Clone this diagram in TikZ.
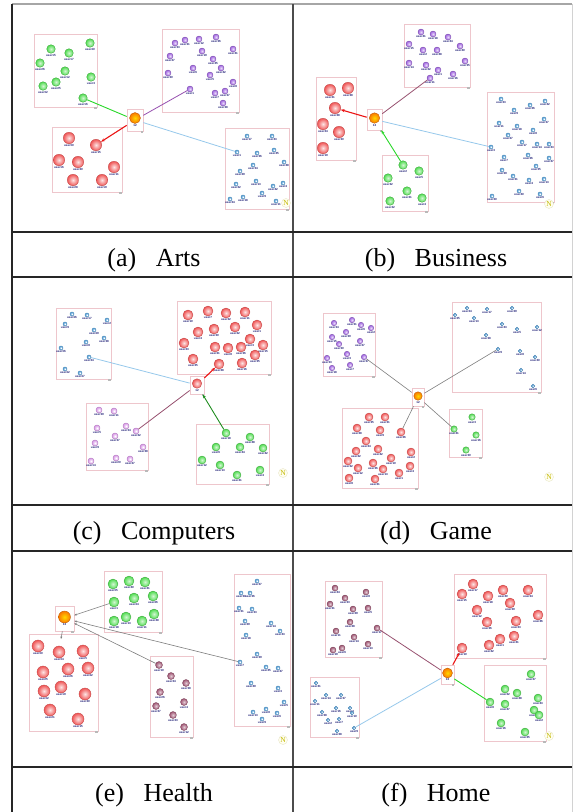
\documentclass[tikz,border=0pt]{standalone}
\usepackage{fontspec}
\setmainfont{Liberation Serif}
\newfontfamily\lblfont{Liberation Sans}
\usetikzlibrary{arrows.meta}

\definecolor{boxpink}{RGB}{238,198,204}
\definecolor{usrtxt}{RGB}{35,35,120}
\definecolor{redu}{RGB}{240,85,85}
\definecolor{grnu}{RGB}{80,220,80}
\definecolor{prpu}{RGB}{160,100,225}
\definecolor{bluu}{RGB}{80,160,220}
\definecolor{pnku}{RGB}{215,150,230}
\definecolor{maru}{RGB}{160,85,115}
\definecolor{orgu}{RGB}{250,120,0}
\definecolor{grnl}{RGB}{40,215,40}
\definecolor{dgrl}{RGB}{30,140,30}
\definecolor{redl}{RGB}{235,20,20}
\definecolor{prpl}{RGB}{150,80,175}
\definecolor{marl}{RGB}{150,80,110}
\definecolor{blul}{RGB}{150,200,235}
\definecolor{gryl}{RGB}{125,125,125}

% a group of users: prefix, colour style, size, list x/y/number
\newcommand{\users}[4]{\foreach \x/\y/\k in {#4}
  \node[usr,#2,minimum size=#3pt,label={[lbl]below:user\k}] (#1\k) at (\x,\y) {};}
% group frame with its little handle
\newcommand{\grpbox}[4]{\draw[grp] (#1,#2) rectangle (#3,#4);
  \fill[hdl] (#3-3,#4-0.5) rectangle +(2.5,2.5);}

\begin{document}
\begin{tikzpicture}[x=1pt,y=-1pt]
\tikzstyle{every node}=[inner sep=0pt]
\tikzstyle{usr}=[circle,line width=0.35pt,shading=radial]
\tikzstyle{lbl}=[font=\lblfont\bfseries\fontsize{3}{3}\selectfont,text=usrtxt,inner sep=0.3pt]
\tikzstyle{ured}=[inner color=redu!15!white,outer color=redu,draw=redu!80!black]
\tikzstyle{ugrn}=[inner color=grnu!25!white,outer color=grnu,draw=grnu!75!black]
\tikzstyle{uprp}=[inner color=prpu!25!white,outer color=prpu,draw=prpu!75!black]
\tikzstyle{ublu}=[inner color=white,outer color=bluu,draw=bluu!80!black,line width=0.45pt]
\tikzstyle{upnk}=[inner color=white,outer color=pnku,draw=pnku!85!black,line width=0.45pt]
\tikzstyle{umar}=[inner color=maru!30!white,outer color=maru,draw=maru!75!black]
\tikzstyle{uorg}=[inner color=yellow!70!orange,outer color=orgu,draw=orgu!75!black]
\tikzstyle{grp}=[draw=boxpink,line width=0.6pt]
\tikzstyle{hdl}=[fill=gray!55]
\tikzstyle{hubbox}=[draw=boxpink,line width=0.6pt,rectangle]
\tikzstyle{logo}=[circle,fill=yellow!6,draw=yellow!40!gray!35,minimum size=9pt,
  text=olive!55!yellow,font=\fontsize{7.5}{8}\selectfont]
\tikzstyle{captxt}=[anchor=base,font=\fontsize{26}{30}\selectfont]
\tikzstyle{lgrn}=[grnl,line width=0.9pt]
\tikzstyle{ldgr}=[dgrl,line width=0.9pt]
\tikzstyle{lred}=[redl,line width=1.1pt]
\tikzstyle{lprp}=[prpl,line width=0.8pt]
\tikzstyle{lmar}=[marl,line width=0.8pt]
\tikzstyle{lblu}=[blul,line width=0.8pt]
\tikzstyle{lgry}=[gryl,line width=0.6pt]
\tikzstyle{headtip}=[-{Stealth[length=4pt,width=3pt]}]

\useasboundingbox (0,0) rectangle (573,812);

% table
\draw[gray!70,line width=1.2pt] (12,4) -- (572,4);
\draw[black!85,line width=1.6pt] (12,4) -- (12,812);
\draw[black!70,line width=1.2pt] (293,4) -- (293,812);
\draw[gray!35,line width=1pt] (572,4) -- (572,812);
\foreach \h in {232,277,505,551,767}
  \draw[black!85,line width=1.2pt] (12,\h) -- (572,\h);

\node[captxt] (capA) at (154,266) {(a)\hspace{0.5em} Arts};
\node[captxt] (capB) at (436,266) {(b)\hspace{0.5em} Business};
\node[captxt] (capC) at (154,539) {(c)\hspace{0.5em} Computers};
\node[captxt] (capD) at (436,539) {(d)\hspace{0.5em} Game};
\node[captxt] (capE) at (154,801) {(e)\hspace{0.5em} Health};
\node[captxt] (capF) at (436,801) {(f)\hspace{0.5em} Home};

% (a) Arts
\grpbox{34}{34}{97}{107}
\users{ag}{ugrn}{8.6}{51/49/15,69/53/17,90/43/40,40/63/26,65/71/12,56/82/25,91/77/3,43/86/32,83/98/16}
\grpbox{162}{29}{239}{112}
\users{ap}{uprp}{6}{175/43/33,185/40/31,199/39/12,216/37/36,202/51/19,233/49/41,170/56/27,213/59/45,193/68/6,221/68/42,168/73/30,210/75/5,233/82/8,190/89/1,215/93/7,225/91/37,223/103/38}
\grpbox{52}{127}{122}{192}
\users{ar}{ured}{11.5}{69/138/30,96/145/15,59/160/16,78/162/20,114/167/11,73/180/28,102/180/19}
\grpbox{225}{128}{289}{209}
\users{ab}{ublu}{4}{247/136/17,272/136/43,237/152/1,257/153/36,274/150/45,284/162/48,253/165/34,240/171/29,256/181/13,236/184/22,273/186/42,283/183/4,262/193/9,243/197/18,230/199/24,276/201/11}
\node[logo] (logoA) at (286,203) {N};
\node[hubbox,minimum width=16pt,minimum height=22pt] (hubA) at (135,120) {};
\fill[hdl] (140.5,130.5) rectangle +(2.5,2.5);
\node[usr,uorg,minimum size=11pt,label={[lbl]below:12}] (orbA) at (135,118) {};
\draw[lgrn] (ag16) -- (hubA);
\draw[lred,headtip] (hubA) -- (ar15);
\draw[lprp] (hubA) -- (ap1);
\draw[lblu] (hubA) -- (ab1);

% (b) Business
\grpbox{316}{77}{356}{160}
\users{br}{ured}{11.5}{330/90/21,348/88/38,335/108/28,323/124/24,339/132/30,323/148/19}
\grpbox{404}{24}{470}{87}
\users{bp}{uprp}{6}{421/32/41,433/34/18,448/37/44,409/44/15,460/46/40,423/50/2,437/50/48,465/61/35,409/63/14,426/65/22,438/70/1,453/74/16,430/78/11}
\grpbox{382}{155}{428}{211}
\users{bg}{ugrn}{8.6}{403/165/2,388/178/32,419/171/5,407/191/21,390/201/22,422/198/4}
\grpbox{487}{92}{554}{202}
\users{bb}{ublu}{4}{501/99/23,514/110/9,530/105/26,545/101/42,499/123/11,544/119/37,517/126/18,533/130/8,508/135/27,522/142/17,537/144/14,549/144/43,491/147/3,504/157/7,528/155/36,549/158/47,536/166/35,502/170/39,513/176/31,529/180/4,544/179/13,519/191/40,540/194/6,492/196/20}
\node[logo] (logoB) at (549,204) {N};
\node[hubbox,minimum width=15pt,minimum height=21pt] (hubB) at (374.5,119.5) {};
\fill[hdl] (379.5,129.5) rectangle +(2.5,2.5);
\node[usr,uorg,minimum size=10.5pt,label={[lbl]below:12}] (orbB) at (374.5,118) {};
\draw[lred,headtip] (hubB) -- (br28);
\draw[lmar] (hubB) -- (bp11);
\draw[lgrn,headtip] (bg2) -- (hubB);
\draw[lblu] (hubB) -- (bb3);

% (c) Computers
\grpbox{56}{308}{111}{379}
\users{cb}{ublu}{4}{72/314/46,87/315/17,65/324/9,107/320/2,94/330/49,104/338/38,86/342/8,61/348/36,89/357/24,65/369/42,80/373/47}
\grpbox{177}{301}{271}{374}
\users{cr}{ured}{10}{188/315/10,208/311/7,226/313/32,245/312/11,257/325/1,198/332/4,214/329/30,235/327/22,184/343/23,215/347/21,228/348/8,241/347/36,250/339/3,263/345/15,255/355/35,193/359/25,219/364/28,242/363/16}
\grpbox{86}{403}{148}{470}
\users{ck}{upnk}{6}{99/410/39,114/411/11,97/428/5,126/426/34,136/431/22,115/436/37,95/443/9,143/447/38,116/458/20,130/459/27,91/461/14}
\grpbox{196}{424}{269}{484}
\users{cg}{ugrn}{8}{226/433/18,250/437/48,216/447/6,240/447/44,263/448/42,202/460/12,220/465/13,260/470/4,237/475/41}
\node[logo] (logoC) at (283,473) {N};
\node[hubbox,minimum width=14pt,minimum height=18pt] (hubC) at (197,385) {};
\fill[hdl] (201.5,393.5) rectangle +(2.5,2.5);
\node[usr,ured,minimum size=9.5pt,label={[lbl]below:12}] (orbC) at (197,383.5) {};
\draw[lblu] (cb24) -- (hubC);
\draw[lred,headtip] (hubC) -- (cr28);
\draw[lmar] (ck22) -- (hubC);
\draw[ldgr,headtip] (cg18) -- (hubC);

% (d) Game
\grpbox{323}{313}{375}{376}
\users{dp}{uprp}{5.5}{334/323/34,352/320/31,361/325/6,371/328/2,346/332/39,332/337/15,339/344/30,360/341/27,347/354/3,364/357/37,327/358/33,350/365/7,332/368/18}
\grpbox{452}{302}{541}{392}
\users{db}{ublu}{3.5}{455/315/25,467/308/24,474/318/13,487/309/17,512/308/29,502/324/43,517/329/5,537/327/12,486/335/38,498/349/9,520/351/8,535/357/40,521/370/14,533/386/6}
\grpbox{342}{408}{418}{488}
\users{dr}{ured}{8}{369/417/35,385/417/31,357/428/28,380/430/9,401/432/26,366/441/24,356/451/22,378/449/42,411/452/2,348/461/32,358/468/12,373/463/36,383/469/13,391/458/10,410/466/4,399/473/1,349/478/8,375/479/21}
\grpbox{449}{409}{482}{457}
\users{dg}{ugrn}{6.5}{472/417/3,454/429/41,476/435/16,466/450/30}
\node[logo] (logoD) at (549,477) {N};
\node[hubbox,minimum width=12pt,minimum height=18pt] (hubD) at (418,397) {};
\fill[hdl] (421.5,405.5) rectangle +(2.5,2.5);
\node[usr,uorg,minimum size=8.5pt,label={[lbl]below:12}] (orbD) at (418,396) {};
\draw[lgry] (dp37) -- (hubD);
\draw[lgry] (hubD) -- (db9);
\draw[lgry] (dr26) -- (hubD);
\draw[lgry] (hubD) -- (dg41);

% (e) Health
\grpbox{29}{634}{98}{731}
\users{er}{ured}{12}{38/646/30,59/652/34,83/651/5,43/672/25,68/669/26,88/668/42,44/691/32,61/687/19,85/694/20,50/710/21,78/719/15}
\grpbox{104}{571}{162}{632}
\users{eg}{ugrn}{10}{113/584/35,129/581/40,145/582/41,114/602/1,134/598/44,153/596/46,114/621/18,126/617/13,142/621/11,154/614/48}
\grpbox{150}{656}{193}{737}
\users{em}{umar}{7}{159/665/10,171/676/24,186/683/38,160/692/26,184/702/4,156/706/27,173/715/23,184/727/12}
\grpbox{234}{574}{290}{726}
\users{eb}{ublu}{4}{257/581/37,241/593/30,250/593/36,239/608/31,252/609/33,245/621/29,271/623/14,280/631/43,246/635/18,257/654/39,240/662/7,266/667/45,278/668/47,251/683/49,278/688/3,284/702/5,266/709/8,253/712/13,277/713/6,262/719/9}
\node[logo] (logoE) at (283,740) {N};
\node[hubbox,minimum width=19pt,minimum height=25pt] (hubE) at (64.5,618.5) {};
\fill[hdl] (71,630.5) rectangle +(2.5,2.5);
\node[usr,uorg,minimum size=12pt,label={[lbl]below:12}] (orbE) at (64.5,617) {};
\coordinate (eTop) at (61,639);
\draw[lgry,{Stealth[length=2.5pt,width=2pt]}-] (hubE) -- (eg1);
\draw[lgry,{Stealth[length=2.5pt,width=2pt]}-] (hubE) -- (em10);
\draw[lgry,{Stealth[length=2.5pt,width=2pt]}-] (hubE) -- (eb7);
\draw[lgry,-{Stealth[length=2.5pt,width=2pt]}] (hubE) -- (eTop);

% (f) Home
\grpbox{325}{581}{382}{657}
\users{fm}{umar}{6}{335/588/44,366/592/8,345/598/33,330/604/31,353/609/29,368/608/5,350/622/28,336/631/11,377/628/17,354/637/14,368/644/13,333/650/19,342/648/6}
\grpbox{310}{677}{359}{737}
\users{fb}{ublu}{3.5}{316/683/41,326/695/14,341/695/37,315/701/11,336/708/16,350/708/3,322/712/38,328/720/2,339/719/7,352/713/10,337/731/28,354/728/9}
\grpbox{454}{574}{546}{658}
\users{fr}{ured}{10}{473/584/17,462/594/15,488/596/18,503/590/40,528/590/34,510/603/39,477/610/12,487/622/36,516/621/23,538/615/46,489/645/42,500/639/1,514/636/41,462/648/10}
\grpbox{484}{665}{546}{741}
\users{fg}{ugrn}{8}{531/674/27,505/689/22,517/693/48,538/698/43,490/702/8,505/704/47,534/710/35,539/715/2,501/723/16,525/732/25}
\node[logo] (logoF) at (549,736) {N};
\node[hubbox,minimum width=13pt,minimum height=19pt] (hubF) at (447.5,674.5) {};
\fill[hdl] (451.5,683.5) rectangle +(2.5,2.5);
\node[usr,uorg,minimum size=10pt,label={[lbl]below:12}] (orbF) at (447.5,673) {};
\draw[lmar] (fm17) -- (hubF);
\draw[lblu] (fb9) -- (hubF);
\draw[lred,headtip] (hubF) -- (fr10);
\draw[lgrn] (hubF) -- (fg8);
\end{tikzpicture}
\end{document}
